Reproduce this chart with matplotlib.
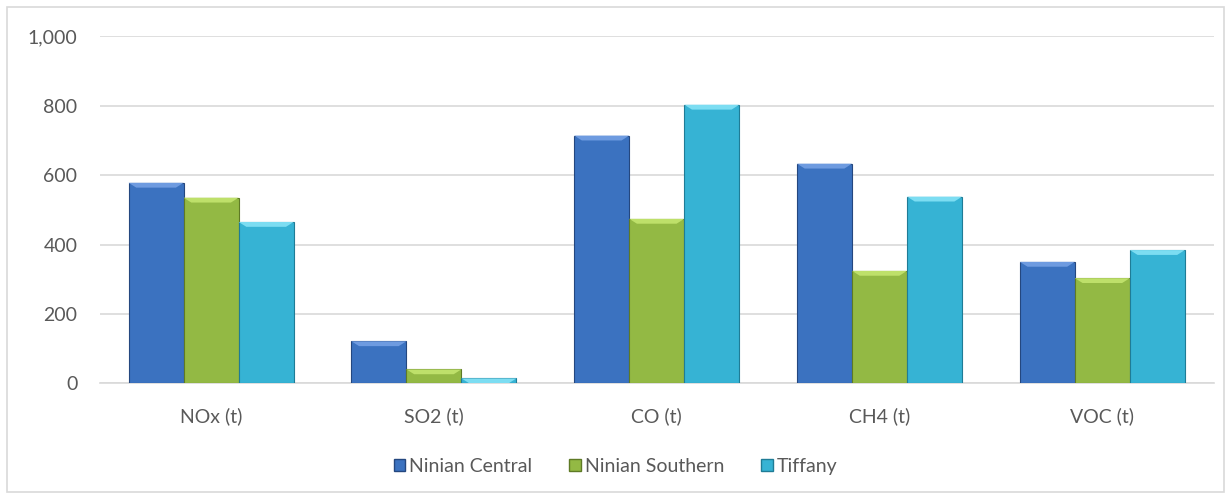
import matplotlib.pyplot as plt
import matplotlib.patches as mpatches
import numpy as np

categories = ["NOx (t)", "SO2 (t)", "CO (t)", "CH4 (t)", "VOC (t)"]
series = ["Ninian Central", "Ninian Southern", "Tiffany"]
ninian_central = [578, 121, 714, 633, 350]
ninian_southern = [535, 40, 474, 324, 303]
tiffany = [465, 14, 803, 538, 384]
colors = ["#3B72C0", "#93B944", "#36B3D4"]
edges = ["#24477F", "#5E7A25", "#1F7C96"]
tops = ["#6E9BE0", "#BEE06A", "#7CDDF2"]

plt.rcParams["font.family"] = ["Lato", "DejaVu Sans"]

fig = plt.figure(figsize=(12.31, 4.99), dpi=100)
ax = fig.add_axes([0.081, 0.232, 0.905, 0.695])
fig.patches.append(mpatches.Rectangle((0.006, 0.014), 0.988, 0.972,
                                      transform=fig.transFigure, fill=False,
                                      edgecolor="#D9D9D9", lw=1.2))

x = np.arange(len(categories))
w = 0.247
handles = []
for i, vals in enumerate([ninian_central, ninian_southern, tiffany]):
    bars = ax.bar(x + (i - 1) * w, vals, w, color=colors[i],
                  edgecolor=edges[i], linewidth=0.8, zorder=3)
    # light bevel along the top of each bar
    for b in bars:
        h = b.get_height()
        bev = min(h, 14.0)
        x0, bw = b.get_x(), b.get_width()
        ins = bw * 0.14
        ax.add_patch(mpatches.Polygon(
            [(x0, h), (x0 + bw, h), (x0 + bw - ins, h - bev), (x0 + ins, h - bev)],
            closed=True, facecolor=tops[i], edgecolor="none", zorder=4))
    handles.append(mpatches.Patch(facecolor=colors[i], edgecolor=edges[i],
                                  label=series[i]))

ax.set_ylim(0, 1000)
ax.set_xlim(-0.5, len(categories) - 0.5)
ax.set_yticks(range(0, 1001, 200))
ax.set_yticklabels([f"{v:,}" for v in range(0, 1001, 200)])
ax.set_xticks(x)
ax.set_xticklabels(categories)
ax.grid(axis="y", color="#D9D9D9", lw=1.2, zorder=0)
for s in ["top", "right", "left"]:
    ax.spines[s].set_visible(False)
ax.spines["bottom"].set_color("#D9D9D9")
ax.spines["bottom"].set_linewidth(1.2)
ax.tick_params(length=0, labelsize=14, colors="#595959")
ax.tick_params(axis="x", pad=17)
ax.tick_params(axis="y", pad=16)

fig.legend(handles=handles, loc="center", bbox_to_anchor=(0.5, 0.066), ncol=3,
           frameon=False, fontsize=14, handlelength=0.6, handleheight=0.6,
           handletextpad=0.2, columnspacing=1.9, labelcolor="#595959")

fig.savefig("out.png")
